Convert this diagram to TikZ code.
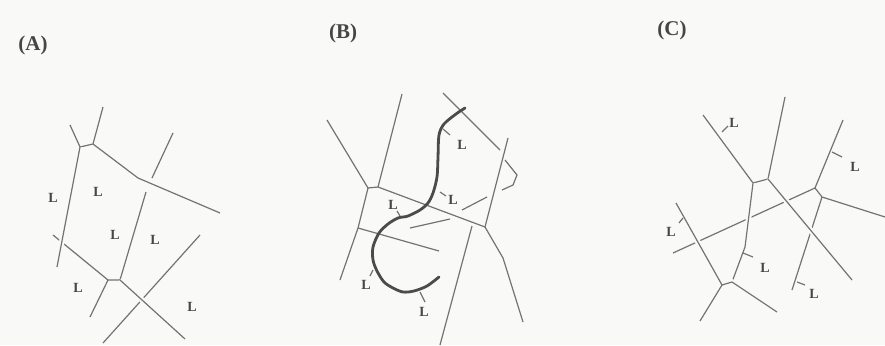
\documentclass[tikz,border=0pt]{standalone}
\usepackage{tikz}
\usepackage{fontspec}
\setmainfont{Liberation Serif}

\definecolor{bgcol}{RGB}{249,249,247}
\definecolor{edgecol}{RGB}{115,115,115}
\definecolor{pathcol}{RGB}{75,75,75}
\definecolor{labcol}{RGB}{70,70,70}

\begin{document}
\begin{tikzpicture}[x=1pt, y=-1pt,
    edge/.style={draw=edgecol, line width=1.2pt},
    over/.style={edge, preaction={draw=bgcol, line width=5.5pt}},
    walk/.style={draw=pathcol, line width=2.8pt, line cap=round, line join=round},
    lab/.style={font=\fontsize{14}{14}\selectfont\bfseries, text=labcol, inner sep=0pt},
    panel/.style={font=\fontsize{21}{21}\selectfont\bfseries, text=labcol, inner sep=0pt}]

  % Tlo
  \fill[bgcol] (0,0) rectangle (885,345);
  \useasboundingbox (0,0) rectangle (885,345);

  % Panel A
  \node[panel] (tA) at (33,45) {(A)};
  \coordinate (A1) at (80,147);
  \coordinate (A2) at (93,144);
  \coordinate (A3) at (138,178);
  \coordinate (A4) at (108,280);
  \coordinate (A5) at (120,280);

  \draw[edge] (70,125) -- (A1) -- (A2) -- (103,107);
  \draw[edge] (A2) -- (A3) -- (220,213);
  \draw[edge] (152,178) -- (173,133);
  \draw[edge] (146,192) -- (A5);
  \draw[edge] (53,235) -- (A4) -- (A5);
  \draw[edge] (A4) -- (90,317);
  \draw[edge] (200,235) -- (103,343);
  \draw[over] (A1) -- (57,267);
  \draw[over] (A5) -- (185,339);

  \node[lab] (a1) at (53,198) {L};
  \node[lab] (a2) at (98,192) {L};
  \node[lab] (a3) at (115,235) {L};
  \node[lab] (a4) at (155,240) {L};
  \node[lab] (a5) at (78,288) {L};
  \node[lab] (a6) at (192,307) {L};

  % Panel B
  \node[panel] (tB) at (343,33) {(B)};
  \coordinate (B1) at (368,188);
  \coordinate (B2) at (378,187);
  \coordinate (B3) at (358,228);
  \coordinate (B4) at (485,227);

  \draw[edge] (327,120) -- (B1) -- (B2) -- (402,94);
  \draw[edge] (B1) -- (B3) -- (340,280);
  \draw[edge] (B2) -- (B4);
  \draw[edge] (B3) -- (439,251);
  \draw[edge] (410,228) -- (450,219);
  \draw[edge] (462,210) -- (487,197);
  \draw[edge] (443,93) -- (500,150);
  \draw[edge] (505,160) -- (517,175) -- (513,185) -- (502,190);
  \draw[edge] (508,138) -- (B4) -- (503,258) -- (523,322);
  \draw[edge] (472,226) -- (440,345);

  % Sciezka
  \draw[walk] plot[smooth, tension=0.5] coordinates {
    (465,108) (456,114) (444,124) (439,135) (438,157) (437,177)
    (433,193) (428,203) (420,210) (408,216) (398,218) (388,224)
    (379,233) (373,247) (373,260) (377,271) (384,282) (393,288)
    (403,292) (414,291) (427,286) (439,277)};

  \draw[edge] (443,129) -- (450,135);
  \draw[edge] (440,192) -- (446,196);
  \draw[edge] (397,211) -- (400,216);
  \draw[edge] (373,270) -- (370,276);
  \draw[edge] (420,292) -- (425,302);
  \node[lab] (b1) at (462,145) {L};
  \node[lab] (b2) at (453,200) {L};
  \node[lab] (b3) at (393,205) {L};
  \node[lab] (b4) at (366,285) {L};
  \node[lab] (b5) at (424,312) {L};

  % Panel C
  \node[panel] (tC) at (672,30) {(C)};
  \coordinate (C1) at (753,183);
  \coordinate (C2) at (768,179);
  \coordinate (C3) at (722,285);
  \coordinate (C4) at (732,282);
  \coordinate (C5) at (815,188);
  \coordinate (C6) at (822,197);

  \draw[edge] (673,253) -- (C5);
  \draw[edge] (C5) -- (843,120);
  \draw[edge] (C5) -- (C6) -- (885,217);
  \draw[edge] (C6) -- (792,290);
  \draw[over] (703,115) -- (C1) -- (C2) -- (785,97);
  \draw[over] (C2) -- (852,280);
  \draw[over] (C1) -- (745,247) -- (C4);
  \draw[over] (676,203) -- (C3) -- (C4) -- (777,312);
  \draw[edge] (C3) -- (700,321);

  \draw[edge] (722,132) -- (728,126);
  \draw[edge] (832,152) -- (842,157);
  \draw[edge] (683,218) -- (679,223);
  \draw[edge] (743,253) -- (753,257);
  \draw[edge] (797,282) -- (805,285);
  \node[lab] (c1) at (734,123) {L};
  \node[lab] (c2) at (855,167) {L};
  \node[lab] (c3) at (671,232) {L};
  \node[lab] (c4) at (765,268) {L};
  \node[lab] (c5) at (814,294) {L};
\end{tikzpicture}
\end{document}
